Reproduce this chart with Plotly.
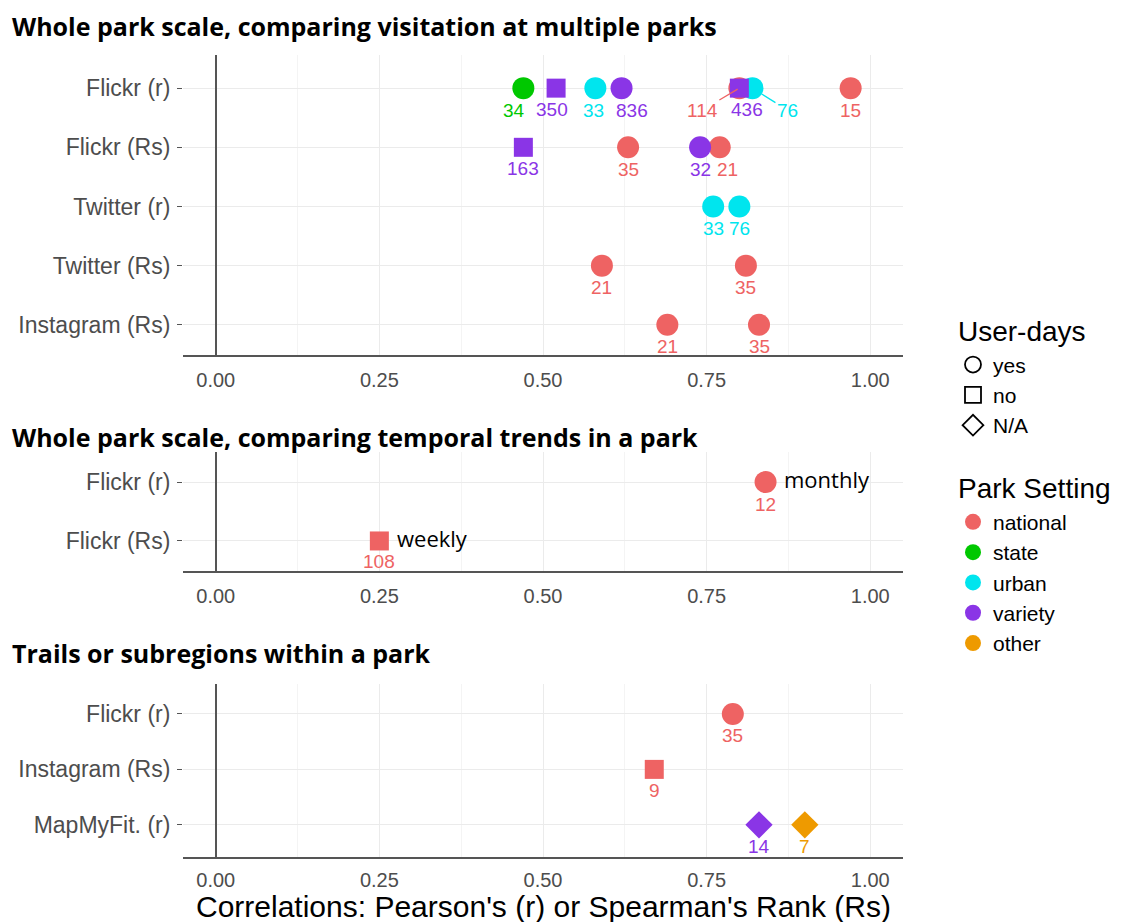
import plotly.graph_objects as go

# ---------------- data ----------------
# panel 1: whole park scale, visitation at multiple parks
p1_cats = ["Flickr (r)", "Flickr (Rs)", "Twitter (r)", "Twitter (Rs)", "Instagram (Rs)"]
p1_cat = ["Flickr (r)"] * 8 + ["Flickr (Rs)"] * 4 + ["Twitter (r)"] * 2 + ["Twitter (Rs)"] * 2 + ["Instagram (Rs)"] * 2
p1_val = [0.47, 0.52, 0.58, 0.62, 0.80, 0.80, 0.82, 0.97,
          0.47, 0.63, 0.74, 0.77,
          0.76, 0.80,
          0.59, 0.81,
          0.69, 0.83]
p1_setting = ["state", "variety", "urban", "variety", "national", "variety", "urban", "national",
              "variety", "national", "variety", "national",
              "urban", "urban",
              "national", "national",
              "national", "national"]
p1_userdays = ["yes", "no", "yes", "yes", "yes", "no", "yes", "yes",
               "no", "yes", "yes", "yes",
               "yes", "yes",
               "yes", "yes",
               "yes", "yes"]
p1_n = ["34", "350", "33", "836", "114", "436", "76", "15",
        "163", "35", "32", "21",
        "33", "76",
        "21", "35",
        "21", "35"]

# panel 2: temporal trends in a park
p2_cats = ["Flickr (r)", "Flickr (Rs)"]
p2_cat = ["Flickr (r)", "Flickr (Rs)"]
p2_val = [0.84, 0.25]
p2_setting = ["national", "national"]
p2_userdays = ["yes", "no"]
p2_n = ["12", "108"]
p2_note = ["monthly", "weekly"]

# panel 3: trails or subregions within a park
p3_cats = ["Flickr (r)", "Instagram (Rs)", "MapMyFit. (r)"]
p3_cat = ["Flickr (r)", "Instagram (Rs)", "MapMyFit. (r)", "MapMyFit. (r)"]
p3_val = [0.79, 0.67, 0.83, 0.90]
p3_setting = ["national", "national", "variety", "other"]
p3_userdays = ["yes", "no", "N/A", "N/A"]
p3_n = ["35", "9", "14", "7"]

x_ticks = [0.0, 0.25, 0.5, 0.75, 1.0]
x_ticktext = ["0.00", "0.25", "0.50", "0.75", "1.00"]

settings = ["national", "state", "urban", "variety", "other"]
userdays = ["yes", "no", "N/A"]

# ---------------- style ----------------
COLORS = {"national": "#EE6363", "state": "#00C800", "urban": "#00E5EE",
          "variety": "#8A35E6", "other": "#EE9A00"}
SYMBOLS = {"yes": "circle", "no": "square", "N/A": "diamond"}
SIZES = {"yes": 22, "no": 19, "N/A": 21}

# repel-style label nudges (panel index, label index) -> (xshift, yshift) in px
LABEL_NUDGE = {(0, 0): (-9, 0), (0, 1): (-4, 0), (0, 2): (-2, 0), (0, 3): (10, 0),
               (0, 5): (8, 0), (0, 11): (8, 0)}
ARROW_LABELS = {(0, 4): (-37, 22, 2), (0, 6): (35, 22, 11)}

W, H = 1128, 922
def py(p):  # pixel row -> paper y
    return 1 - p / H
def px(p):
    return p / W

X0, X1 = 183, 903
panels = [
    dict(cats=p1_cats, cat=p1_cat, val=p1_val, st=p1_setting, ud=p1_userdays, n=p1_n,
         top=55, bottom=355, rng=[0.49, 5.56]),
    dict(cats=p2_cats, cat=p2_cat, val=p2_val, st=p2_setting, ud=p2_userdays, n=p2_n,
         top=452, bottom=571, rng=[0.49, 2.51]),
    dict(cats=p3_cats, cat=p3_cat, val=p3_val, st=p3_setting, ud=p3_userdays, n=p3_n,
         top=684, bottom=857, rng=[0.42, 3.54]),
]

SANS = "Liberation Sans, Arial, sans-serif"
XTICKFONT = dict(family=SANS, size=20, color="#4D4D4D")
YTICKFONT = dict(family=SANS, size=23, color="#4D4D4D")
TITLEFONT = dict(family="Open Sans, sans-serif", size=25, color="black")

fig = go.Figure()
annotations = []

for i, p in enumerate(panels):
    k = "" if i == 0 else str(i + 1)
    xa, ya = "x" + k, "y" + k
    ncat = len(p["cats"])
    ypos = {c: ncat - j for j, c in enumerate(p["cats"])}
    for s in settings:
        for u in userdays:
            idx = [j for j in range(len(p["val"])) if p["st"][j] == s and p["ud"][j] == u]
            if not idx:
                continue
            fig.add_trace(go.Scatter(
                x=[p["val"][j] for j in idx], y=[ypos[p["cat"][j]] for j in idx],
                mode="markers", xaxis=xa, yaxis=ya, showlegend=False,
                marker=dict(color=COLORS[s], symbol=SYMBOLS[u], size=SIZES[u],
                            line=dict(width=0)),
                hoverinfo="skip"))
    for j in range(len(p["val"])):
        yv = ypos[p["cat"][j]]
        base = dict(x=p["val"][j], y=yv, xref=xa, yref=ya, text=p["n"][j],
                    font=dict(family=SANS, size=19, color=COLORS[p["st"][j]]))
        if (i, j) in ARROW_LABELS:
            ax, ay, so = ARROW_LABELS[(i, j)]
            annotations.append(dict(base, showarrow=True, arrowhead=0, arrowwidth=1.3,
                                    arrowcolor=COLORS[p["st"][j]], ax=ax, ay=ay,
                                    standoff=so))
        else:
            dx, dy = LABEL_NUDGE.get((i, j), (0, 0))
            ysh = -22 if p["ud"][j] != "no" else -21
            annotations.append(dict(base, showarrow=False, xshift=dx, yshift=ysh + dy))
    if i == 1:
        for j in range(len(p["val"])):
            annotations.append(dict(x=p["val"][j], y=ypos[p["cat"][j]], xref=xa, yref=ya,
                                    text=p2_note[j], showarrow=False, xanchor="left",
                                    xshift=16, yshift=3,
                                    font=dict(family="Open Sans, sans-serif",
                                              size=22, color="black")))
    dom_y = [py(p["bottom"]), py(p["top"])]
    fig.update_layout(**{
        "xaxis" + k: dict(domain=[px(X0), px(X1)], range=[-0.05, 1.05], anchor=ya,
                          tickvals=x_ticks, ticktext=x_ticktext, tickfont=XTICKFONT,
                          showgrid=True, gridcolor="#EBEBEB", gridwidth=1.3,
                          minor=dict(dtick=0.125, tick0=0, showgrid=True,
                                     gridcolor="#F4F4F4", gridwidth=1),
                          zeroline=True, zerolinecolor="#555555", zerolinewidth=1.6,
                          showline=True, linecolor="#555555", linewidth=1.6,
                          ticks="", ticklabelstandoff=4 if i == 2 else 6),
        "yaxis" + k: dict(domain=dom_y, range=p["rng"], anchor=xa,
                          tickvals=[ypos[c] for c in p["cats"]], ticktext=p["cats"],
                          tickfont=YTICKFONT, showgrid=True, gridcolor="#EBEBEB",
                          gridwidth=1.3, zeroline=False, showline=False,
                          ticks="outside", ticklen=5, tickcolor="#555555", tickwidth=1.2,
                          ticklabelstandoff=2),
    })

# x-axis title (bottom panel)
annotations.append(dict(text="Correlations: Pearson's (r) or Spearman's Rank (Rs)",
                        x=(px(X0) + px(X1)) / 2, y=0, xref="paper", yref="paper",
                        xanchor="center", yanchor="bottom", yshift=-3, showarrow=False,
                        font=dict(family=SANS, size=30, color="black")))

titles = [("Whole park scale, comparing visitation at multiple parks", 26),
          ("Whole park scale, comparing temporal trends in a park", 437),
          ("Trails or subregions within a park", 653)]
for t, yp in titles:
    annotations.append(dict(text="<b>%s</b>" % t, x=px(10), y=py(yp), xref="paper",
                            yref="paper", xanchor="left", yanchor="middle",
                            showarrow=False, font=TITLEFONT))

for u in userdays:
    fig.add_trace(go.Scatter(x=[None], y=[None], mode="markers", name=u,
                             legendgroup="ud",
                             legendgrouptitle=dict(text="User-days"),
                             marker=dict(symbol=SYMBOLS[u] + "-open", color="black",
                                         size=20, line=dict(width=1.8, color="black"))))
for s in settings:
    fig.add_trace(go.Scatter(x=[None], y=[None], mode="markers", name=s,
                             legendgroup="ps",
                             legendgrouptitle=dict(text="Park Setting"),
                             marker=dict(symbol="circle", color=COLORS[s], size=20)))

fig.update_layout(
    width=W, height=H, margin=dict(l=0, r=0, t=0, b=0),
    paper_bgcolor="white", plot_bgcolor="white",
    annotations=annotations,
    legend=dict(x=px(953), y=py(305), xanchor="left", yanchor="top",
                font=dict(family=SANS, size=21, color="black"),
                grouptitlefont=dict(family=SANS, size=28, color="black"),
                tracegroupgap=27, bgcolor="rgba(0,0,0,0)", itemsizing="trace"),
)

fig.write_html("out.html")
